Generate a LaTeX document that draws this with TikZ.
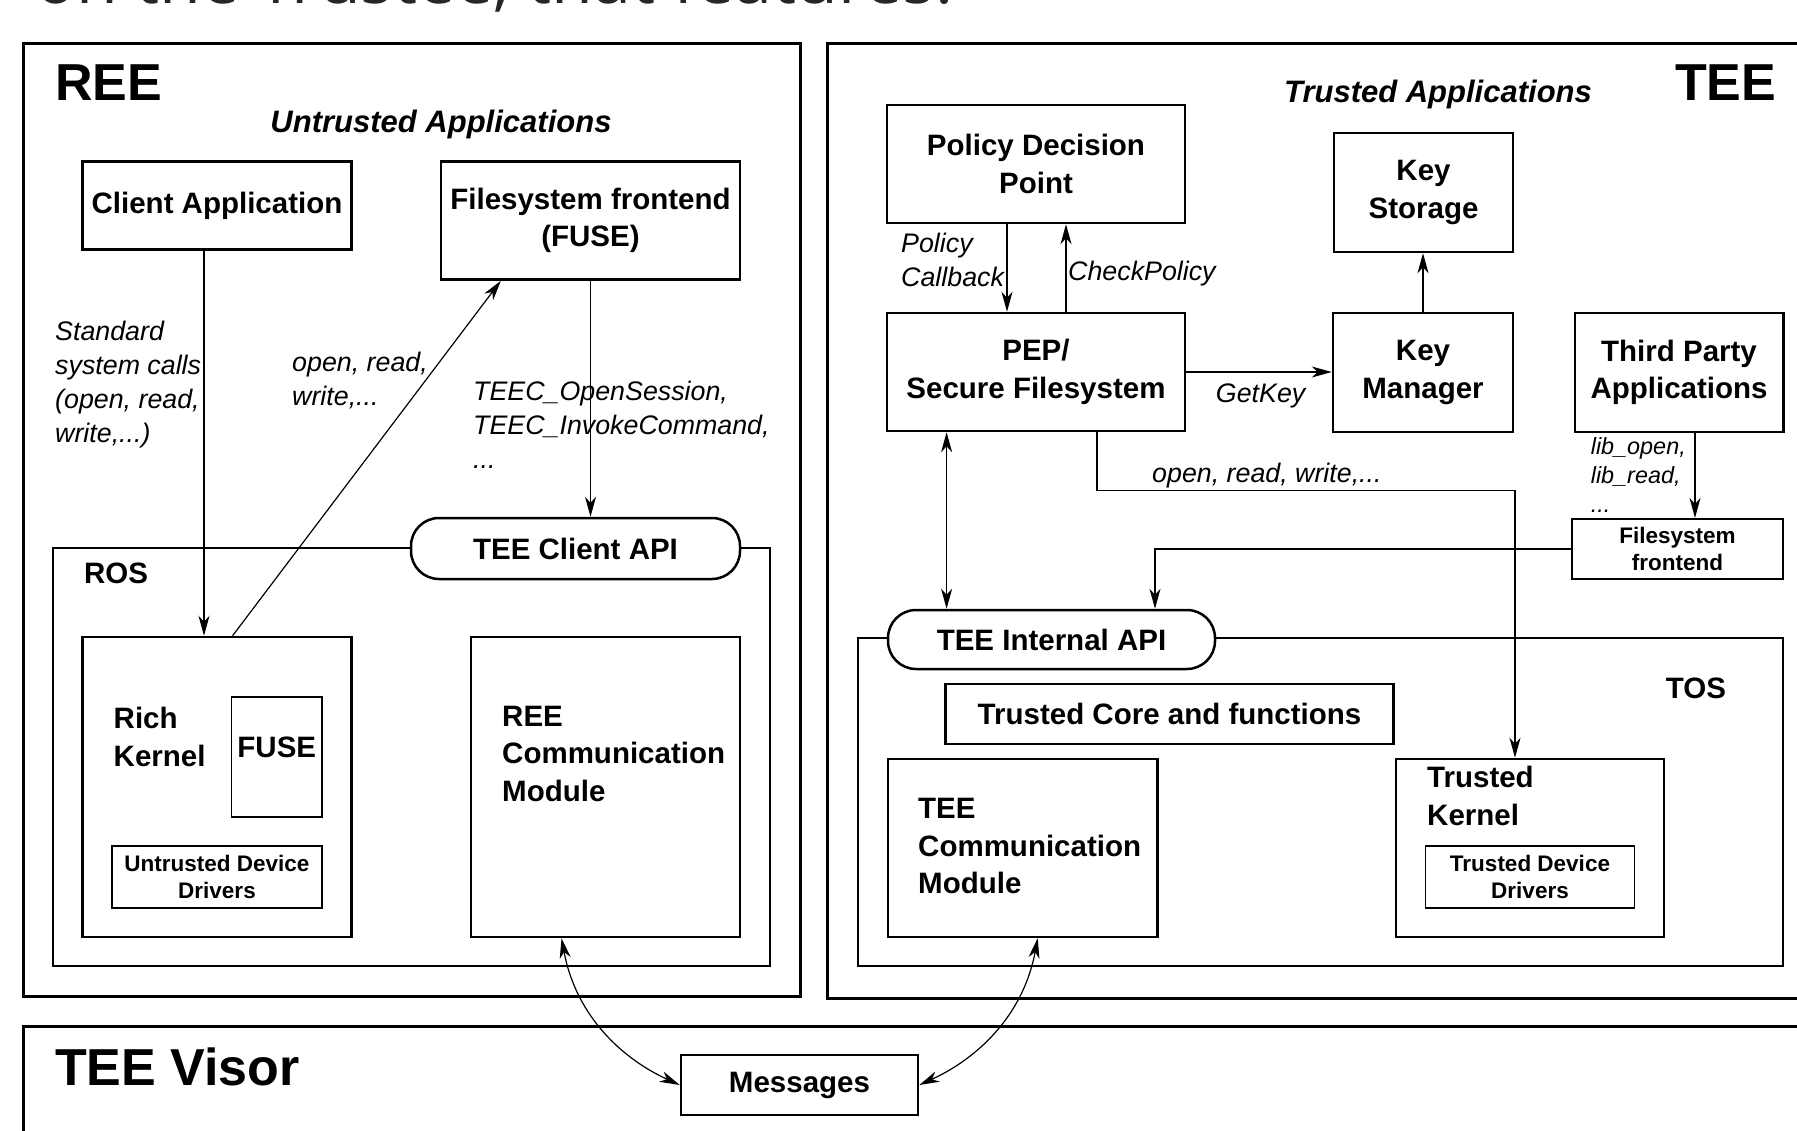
\documentclass[tikz,border=0pt]{standalone}
\usepackage{fontspec}
\setmainfont{Liberation Sans}
\newfontfamily\topfont{Open Sans}
\usetikzlibrary{arrows.meta,calc}
\newcommand\btxt{\fontsize{29.5}{37.5}\selectfont\bfseries}
\newcommand\stxt{\fontsize{22.5}{27.5}\selectfont\bfseries}
\newcommand\bigtxt{\fontsize{52}{60}\selectfont\bfseries}
\newcommand\ittxt{\fontsize{26.8}{34}\selectfont\itshape}
\newcommand\libtxt{\fontsize{23.4}{29}\selectfont\itshape}
\newcommand\bittxt{\fontsize{31}{36}\selectfont\bfseries\itshape}
\begin{document}
\begin{tikzpicture}[x=1pt,y=-1pt]
\tikzset{
  bx/.style={draw, line width=2.5pt, inner sep=0pt, align=center, font=\btxt, fill=white},
  sbx/.style={draw, line width=1.6pt, inner sep=0pt, align=center, font=\stxt, fill=white},
  outerbox/.style={draw, line width=3pt},
  lbl/.style={inner sep=0pt, align=left},
  tip/.tip={Stealth[length=20pt,width=11pt,inset=6pt]},
  conn/.style={line width=1.2pt, -tip},
  bidir/.style={line width=1.2pt, tip-tip},
}
\useasboundingbox (0,0) rectangle (1797,1131);
\fill[white] (0,0) rectangle (1797,1131);

% slide text fragment at the top
\begin{scope}
\clip (0,0) rectangle (1797,1131);
\node[anchor=base west, inner sep=0pt, font=\topfont\fontsize{68}{80}\selectfont, text=black!85] (toptext) at (35,4) {on the Trustee, that features:};
\end{scope}

% outer regions
\draw[outerbox] (23,44) rectangle (800,996);
\draw[outerbox] (827,44) rectangle (1840,998);
\draw[outerbox] (23,1026) rectangle (1840,1170);

\node[lbl, font=\bigtxt, anchor=west] (reelbl) at (55,82.5) {REE};
\node[lbl, font=\bigtxt, anchor=west] (teelbl) at (1675,82.5) {TEE};
\node[lbl, font=\bigtxt, anchor=west] (visorlbl) at (55,1067) {TEE Visor};

\node[lbl, font=\bittxt] (uapps) at (441,124.5) {Untrusted Applications};
\node[lbl, font=\bittxt] (tapps) at (1438,94) {Trusted Applications};

% REE side
\node[bx, minimum width=269pt, minimum height=88pt] (ca) at (217,205.7) {Client Application};
\node[bx, minimum width=299pt, minimum height=118pt] (fuse) at (590.5,220.6) {Filesystem frontend\\(FUSE)};

\node[bx, fill=none, minimum width=717pt, minimum height=418pt] (ros) at (411.4,757) {};
\node[bx, rounded corners=28pt, minimum width=329pt, minimum height=61pt] (tca) at (575.5,548.5) {TEE Client API};
\node[lbl, font=\btxt, anchor=west] (roslbl) at (84,573) {ROS};

\node[bx, minimum width=269pt, minimum height=300pt] (rk) at (217,787) {};
\node[lbl, font=\btxt, anchor=north west] (rktxt) at (113.5,707) {Rich\\Kernel};
\node[sbx, minimum width=90.5pt, minimum height=120pt] (fusein) at (276.8,757) {};
\node[lbl, font=\btxt] (fuseintxt) at (276.8,747) {FUSE};
\node[sbx, minimum width=210pt, minimum height=62pt] (udd) at (217,877) {Untrusted Device\\Drivers};

\node[bx, minimum width=269pt, minimum height=300pt] (reecm) at (605.5,787) {};
\node[lbl, font=\btxt, anchor=north west] (reecmtxt) at (502,706) {REE\\Communication\\Module};

\node[lbl, font=\ittxt, anchor=north west] (stdlbl) at (55,321) {Standard\\system calls\\(open, read,\\write,...)};
\node[lbl, font=\ittxt, anchor=north west] (orwlbl) at (292,352) {open, read,\\write,...};
\node[lbl, font=\ittxt, anchor=north west] (teeclbl) at (473,381) {TEEC\_OpenSession,\\TEEC\_InvokeCommand,\\...};

\draw[conn] ([xshift=-13pt]ca.south) -- ([xshift=-13pt]ca.south |- rk.north);
\draw[conn] ([xshift=15.6pt]rk.north) -- ([xshift=-89.7pt]fuse.south);
\draw[conn] (fuse.south) -- (fuse.south |- tca.north);

% Visor
\node[bx, minimum width=237pt, minimum height=60pt] (msg) at (799.5,1085) {Messages};

% TEE side
\node[bx, minimum width=298pt, minimum height=118pt] (pdp) at (1036,164) {Policy Decision\\Point};
\node[bx, minimum width=179pt, minimum height=119pt] (ks) at (1423.5,192.5) {Key\\Storage};
\node[bx, minimum width=298pt, minimum height=118pt] (pep) at (1036,372) {PEP/\\Secure Filesystem};
\node[bx, minimum width=180pt, minimum height=119pt] (km) at (1423,372.5) {Key\\Manager};
\node[bx, minimum width=208.5pt, minimum height=119pt] (tpa) at (1679,372.5) {Third Party\\Applications};
\node[sbx, line width=2.2pt, minimum width=211pt, minimum height=60pt] (fsf) at (1677.5,549) {Filesystem\\frontend};

\node[bx, fill=none, minimum width=925pt, minimum height=328pt] (tos) at (1320.5,802) {};
\node[bx, rounded corners=28pt, minimum width=327pt, minimum height=59pt] (tia) at (1051.5,639.5) {TEE Internal API};
\node[lbl, font=\btxt] (toslbl) at (1696,688) {TOS};
\node[bx, minimum width=448pt, minimum height=60pt] (tcf) at (1169.5,714) {Trusted Core and functions};
\node[bx, minimum width=269.5pt, minimum height=178pt] (teecm) at (1022.7,848) {};
\node[lbl, font=\btxt, anchor=north west] (teecmtxt) at (918,798) {TEE\\Communication\\Module};
\node[bx, minimum width=268pt, minimum height=178pt] (tk) at (1530,848) {};
\node[lbl, font=\btxt, anchor=north west] (tktxt) at (1427,766) {Trusted\\Kernel};
\node[sbx, minimum width=209pt, minimum height=62pt] (tdd) at (1530,877) {Trusted Device\\Drivers};

\node[lbl, font=\ittxt, anchor=north west] (pcblbl) at (901,233) {Policy\\Callback};
\node[lbl, font=\ittxt, anchor=west] (cplbl) at (1068,274) {CheckPolicy};
\node[lbl, font=\ittxt] (gklbl) at (1260.6,396) {GetKey};
\node[lbl, font=\libtxt, anchor=north west] (liblbl) at (1590.6,437) {lib\_open,\\lib\_read,\\...};
\node[lbl, font=\ittxt, anchor=west] (orw2lbl) at (1152,476) {open, read, write,...};

\draw[conn] ([xshift=-29pt]pdp.south) -- ([xshift=-29pt]pdp.south |- pep.north);
\draw[conn] ([xshift=30pt]pep.north) -- ([xshift=30pt]pep.north |- pdp.south);
\draw[conn] (pep.east) -- (pep.east -| km.west);
\draw[conn] (km.north) -- (km.north |- ks.south);
\draw[conn] ([xshift=16pt]tpa.south) -- ([xshift=16pt]tpa.south |- fsf.north);
\draw[conn] (fsf.west) -| ([xshift=103.5pt]tia.north);
\coordinate (pk) at (1515,490.5);
\draw[conn] ([xshift=61pt]pep.south) |- (pk) -- (pk |- tk.north);
\draw[bidir] ([xshift=-89.4pt]pep.south) -- ([xshift=-89.4pt]pep.south |- tia.north);

\draw[bidir] ([xshift=-44pt]reecm.south) .. controls +(15,80) and +(-55,-25) .. (msg.west);
\draw[bidir] ([xshift=15pt]teecm.south) .. controls +(-15,80) and +(55,-25) .. (msg.east);
\end{tikzpicture}
\end{document}
